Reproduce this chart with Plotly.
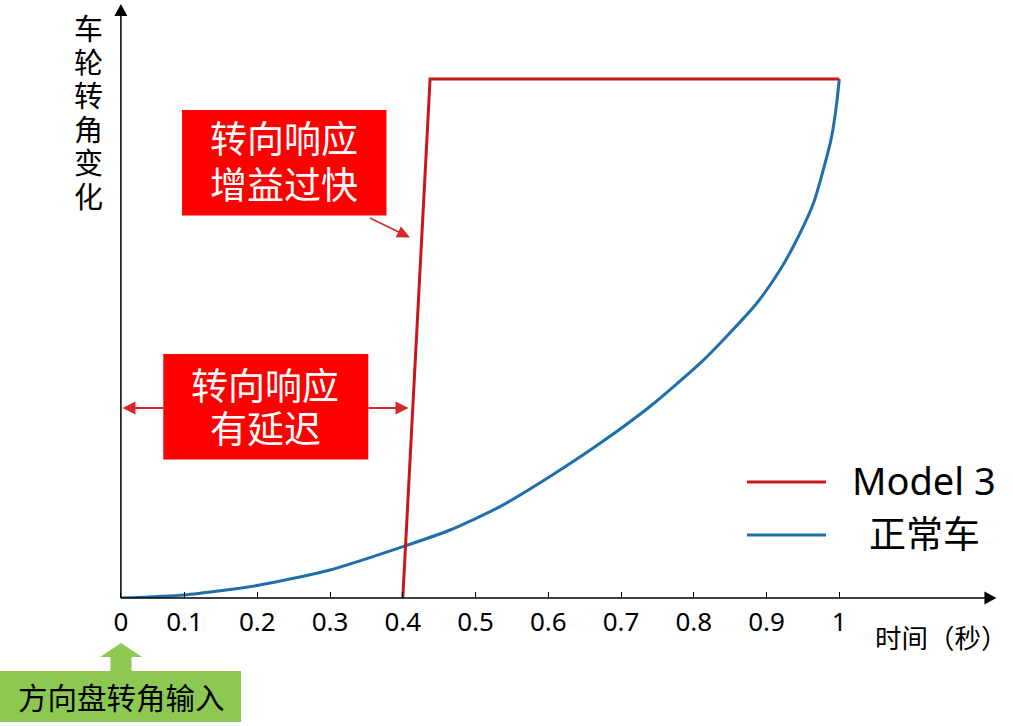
import math
import plotly.graph_objects as go

# ---------------- data ----------------
time_normal = [0.0125, 0.0993, 0.1996, 0.2999, 0.4003, 0.4649, 0.5336, 0.6023, 0.6711, 0.7398,
               0.8085, 0.8450, 0.8865, 0.9185, 0.9436, 0.9643, 0.9780, 0.9895, 0.9964, 1.0000]
angle_normal = [0.000, 0.006, 0.024, 0.054, 0.099, 0.131, 0.176, 0.234, 0.298, 0.369,
                0.452, 0.504, 0.568, 0.632, 0.696, 0.760, 0.825, 0.889, 0.953, 1.000]

time_model3 = [0.400, 0.4375, 1.000]
angle_model3 = [0.000, 1.000, 1.000]

series_names = ["Model 3", "正常车"]

tick_vals = [0.0125, 0.1, 0.2, 0.3, 0.4, 0.5, 0.6, 0.7, 0.8, 0.9, 1.0]
tick_text = ["0", "0.1", "0.2", "0.3", "0.4", "0.5", "0.6", "0.7", "0.8", "0.9", "1"]

y_title = "车轮转角变化"
x_title = "时间（秒）"
box1_lines = ["转向响应", "增益过快"]
box2_lines = ["转向响应", "有延迟"]
input_text = "方向盘转角输入"

# ---------------- layout constants ----------------
W, H = 1013, 726
PLOT_BOTTOM = 598           # pixel row of y = 0
X_ORIGIN = 0.0125           # where the vertical axis crosses
X_RANGE = [-111.8 / 727.5, (W - 111.8) / 727.5]
Y_RANGE = [0, PLOT_BOTTOM / 519.0]
Y_TIP = 1.1445
X_TIP = 1.216

RED_LINE = "#c8161d"
BLUE_LINE = "#1f6fab"
BOX_RED = "#fe0000"
ARROW_RED = "#d7262c"
GREEN = "#8dc853"
FONT = "Noto Sans, Noto Sans CJK SC, sans-serif"
CJK = "Noto Sans CJK SC, Noto Sans, sans-serif"
CJK_TIGHT = "Liberation Sans, Noto Sans CJK SC, sans-serif"


def px(x):
    return x / W


def py(y):
    return (PLOT_BOTTOM - y) / PLOT_BOTTOM


def data_to_pix(x, y):
    return 111.8 + 727.5 * x, PLOT_BOTTOM - 519.0 * y


def label(text, x, y, size, color="black", family=CJK):
    return dict(x=px(x), y=py(y), xref="paper", yref="paper", text=text, showarrow=False,
                xanchor="center", yanchor="middle",
                font=dict(family=family, size=size, color=color))


def arrow_shapes(tip, tail, color, width, head_len, head_half):
    """Line from tail to tip plus a filled triangular head (pixel coords -> paper)."""
    dx, dy = tip[0] - tail[0], tip[1] - tail[1]
    d = math.hypot(dx, dy)
    ux, uy = dx / d, dy / d
    bx, by = tip[0] - ux * head_len, tip[1] - uy * head_len
    nx, ny = -uy, ux
    line = dict(type="line", xref="paper", yref="paper",
                x0=px(tail[0]), y0=py(tail[1]), x1=px(bx + ux), y1=py(by + uy),
                line=dict(color=color, width=width))
    pts = [tip, (bx + nx * head_half, by + ny * head_half), (bx - nx * head_half, by - ny * head_half)]
    head = dict(type="path", xref="paper", yref="paper",
                path="M " + " L ".join(f"{px(a):.5f},{py(b):.5f}" for a, b in pts) + " Z",
                fillcolor=color, line=dict(width=0))
    return [line, head]


fig = go.Figure()
fig.add_trace(go.Scatter(x=time_normal, y=angle_normal, mode="lines", name=series_names[1],
                         line=dict(color=BLUE_LINE, width=3, shape="spline", smoothing=0.6),
                         showlegend=False))
fig.add_trace(go.Scatter(x=time_model3, y=angle_model3, mode="lines", name=series_names[0],
                         line=dict(color=RED_LINE, width=3), showlegend=False))

shapes = []
annotations = []

# axes with arrowheads
origin = data_to_pix(X_ORIGIN, 0)
shapes += arrow_shapes(data_to_pix(X_ORIGIN, Y_TIP), origin, "black", 1.5, 12, 6.5)
shapes += arrow_shapes(data_to_pix(X_TIP, 0), origin, "black", 1.5, 12, 6.5)

# y-axis title, stacked characters
for i, ch in enumerate(y_title):
    annotations.append(label(ch, 88, 30 + i * 33.6, 29, family=CJK_TIGHT))

# x-axis title
annotations.append(label(x_title, 941, 636, 26.5))

# red callout boxes
shapes.append(dict(type="rect", xref="paper", yref="paper", x0=px(182), x1=px(386.5),
                   y0=py(110), y1=py(215.5), fillcolor=BOX_RED, line=dict(width=0)))
shapes.append(dict(type="rect", xref="paper", yref="paper", x0=px(163.3), x1=px(368.3),
                   y0=py(354), y1=py(459.5), fillcolor=BOX_RED, line=dict(width=0)))
for i, t in enumerate(box1_lines):
    annotations.append(label(t, 284, 141 + i * 45, 37, "white", CJK_TIGHT))
for i, t in enumerate(box2_lines):
    annotations.append(label(t, 265, 387 + i * 43.3, 37, "white", CJK_TIGHT))

# callout arrows
shapes += arrow_shapes((410, 237.5), (370, 218), ARROW_RED, 1.5, 13, 6)
shapes += arrow_shapes((122.5, 408), (163.3, 408), ARROW_RED, 2, 13, 6.5)
shapes += arrow_shapes((408.5, 408), (368.3, 408), ARROW_RED, 2, 13, 6.5)

# manual legend
shapes.append(dict(type="line", xref="paper", yref="paper", x0=px(747), x1=px(826),
                   y0=py(482), y1=py(482), line=dict(color=RED_LINE, width=3)))
shapes.append(dict(type="line", xref="paper", yref="paper", x0=px(747), x1=px(826),
                   y0=py(535), y1=py(535), line=dict(color=BLUE_LINE, width=3)))
annotations.append(label(series_names[0], 924, 480, 38, family=FONT))
annotations.append(label(series_names[1], 924, 532, 37))

# green input box and block arrow
shapes.append(dict(type="rect", xref="paper", yref="paper", x0=px(0), x1=px(241),
                   y0=py(671), y1=py(722), fillcolor=GREEN, line=dict(width=0)))
pts = [(121, 643), (142, 657), (131.5, 657), (131.5, 672), (110.5, 672), (110.5, 657), (100, 657)]
path = "M " + " L ".join(f"{px(a):.5f},{py(b):.5f}" for a, b in pts) + " Z"
shapes.append(dict(type="path", xref="paper", yref="paper", path=path,
                   fillcolor=GREEN, line=dict(width=0)))
annotations.append(label(input_text, 121, 696, 29.5))

fig.update_layout(
    width=W, height=H,
    margin=dict(l=0, r=0, t=0, b=H - PLOT_BOTTOM, autoexpand=False),
    paper_bgcolor="white", plot_bgcolor="white",
    shapes=shapes, annotations=annotations,
    showlegend=False,
    xaxis=dict(range=X_RANGE, showgrid=False, zeroline=False, showline=False,
               tickmode="array", tickvals=tick_vals, ticktext=tick_text,
               ticks="inside", ticklen=6, tickwidth=1.2, tickcolor="black",
               tickfont=dict(family=FONT, size=26, color="black"),
               ticklabelstandoff=6, fixedrange=True),
    yaxis=dict(range=Y_RANGE, visible=False, showgrid=False, zeroline=False,
               fixedrange=True),
)

fig.write_html("out.html", config={"displayModeBar": False},
               post_script="document.body.style.margin='0';document.body.style.overflow='hidden';")
